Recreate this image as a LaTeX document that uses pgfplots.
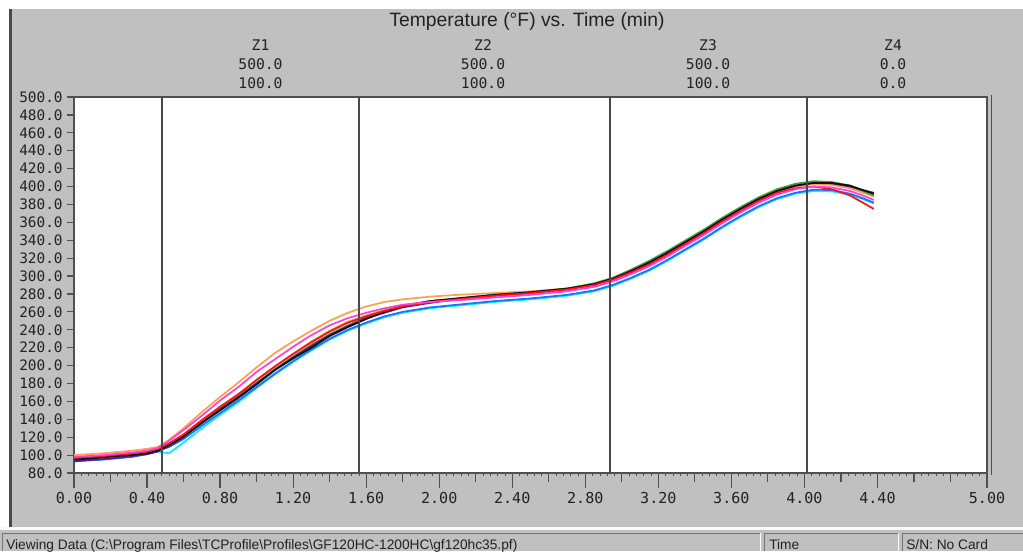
\documentclass[border=0pt]{standalone}
\usepackage{fontspec}
\setmainfont{Liberation Sans}
\setmonofont{DejaVu Sans Mono}
\usepackage{pgfplots}
\usepackage{pgfplotstable}
\pgfplotsset{compat=1.18}
\definecolor{bg}{HTML}{C0C0C0}
\definecolor{darkline}{HTML}{4A4A4A}
\definecolor{frame}{HTML}{505050}
\definecolor{txt}{HTML}{222222}
\definecolor{cK}{HTML}{101010}
\definecolor{cR}{HTML}{FF1010}
\definecolor{cB}{HTML}{2070FF}
\definecolor{cC}{HTML}{00F0FF}
\definecolor{cM}{HTML}{FF40E0}
\definecolor{cO}{HTML}{FFA050}
\definecolor{cG}{HTML}{40A040}
\definecolor{cP}{HTML}{602080}
\definecolor{cY}{HTML}{D0B040}

\pgfplotstableread{
t k r b c m o g p y
0.00 95 97 93 94 98 100 96 93 97
0.08 96 98 94 95 99 101 97 94.5 98
0.16 97.5 99 95 96 100 102 98 95.5 99
0.24 99 100.5 96.5 97.5 101.5 103.5 99.5 97 100.5
0.32 100 102 98 99 103 105 101 99 102
0.40 102 104 101 102 105 107 103 101 104.5
0.46 105 107 105 104 108 109 106 104 107
0.52 111 113 109 102 116 117 112 110 113
0.60 121 123 118 114 128 130 122 120 123
0.70 136 139 133 130 144 148 137 136 139
0.80 150 154 147 145 161 165 152 151 154
0.90 164 168 161 159 176 181 166 165 168
1.00 179 184 176 175 193 198 181 180 184
1.10 195 199 191 190 207 214 196 195 199
1.20 208 213 205 204 221 227 210 209 213
1.30 220 226 218 217 234 239 223 222 227
1.40 233 238 230 229 245 250 235 234 239
1.50 243 248 240 239 253 259 245 244 249
1.60 252 255 248 247 259 266 254 253 256
1.70 260 261 255 254 264 271 261 259 262
1.80 266 266 260 259 268 274 267 265 267
1.95 272 271 265 264 271 277 272 270 272
2.10 275 274 268 267 273 279 275 274 275
2.30 279 278 272 271 276 281 279 278 279
2.50 282 281 275 274 279 283 282 281 282
2.70 286 285 279 278 283 286 286 285 286
2.85 291 290 284 283 288 290 292 291 291
2.95 297 296 290 289 294 296 298 297 297
3.05 305 304 298 297 302 304 307 306 305
3.15 315 313 307 306 311 313 317 315 314
3.25 326 324 318 317 322 324 328 326 325
3.35 338 336 330 329 334 336 340 338 337
3.45 350 348 342 341 346 348 352 350 349
3.55 363 361 355 354 359 361 365 363 362
3.65 375 373 367 366 371 373 377 375 374
3.75 386 384 378 377 382 385 388 386 385
3.85 395 393 387 386 391 394 397 395 394
3.95 401 398 393 392 397 400 403 401 400
4.05 404 400 396.5 395 400 403 406 404 403
4.15 404 397 396 394.5 399 402 405 403.5 402
4.25 401 390 392 391 395 398 401 400 399
4.32 396 382 387 386 390 393 395 396 394
4.38 392 375 382 381 385 389 390 393 390
}\prof

\begin{document}
\begin{tikzpicture}
\path[use as bounding box, fill=white] (0pt,0pt) rectangle (767.25pt,413.25pt);
\begin{scope}[x=0.75pt,y=0.75pt]
\fill[bg] (9,24) rectangle (1023,542);
\fill[darkline] (9,24) rectangle (11.5,542);
% status bar
\fill[white!90!bg] (0,21) rectangle (1023,24);
\fill[bg] (0,0) rectangle (1023,21);
\draw[gray!90!black, line width=0.75pt] (2,0) -- (2,18) -- (760,18);
\draw[white, line width=0.75pt] (760,18) -- (760,0);
\draw[gray!90!black, line width=0.75pt] (764,0) -- (764,18) -- (898,18);
\draw[white, line width=0.75pt] (898,18) -- (898,0);
\draw[gray!90!black, line width=0.75pt] (902,0) -- (902,18) -- (1023,18);
\node[anchor=base west, inner sep=0pt, font=\fontsize{10.3}{12}\selectfont, text=txt] at (6,1.5) {Viewing Data (C:\textbackslash Program Files\textbackslash TCProfile\textbackslash Profiles\textbackslash GF120HC-1200HC\textbackslash gf120hc35.pf)};
\node[anchor=base west, inner sep=0pt, font=\fontsize{10.3}{12}\selectfont, text=txt] at (769,1.5) {Time};
\node[anchor=base west, inner sep=0pt, font=\fontsize{10.3}{12}\selectfont, text=txt] at (906,1.5) {S/N: No Card};
% title
\node[font=\fontsize{14.5}{16}\selectfont, text=txt] at (527,529.5) {Temperature (°F) vs. Time (min)};
% zone labels
\foreach \xx/\za/\zb/\zc in {260.5/Z1/500.0/100.0, 483/Z2/500.0/100.0, 708/Z3/500.0/100.0, 893/Z4/0.0/0.0}{
  \node[font=\ttfamily\fontsize{11}{12}\selectfont, text=txt] at (\xx,506) {\za};
  \node[font=\ttfamily\fontsize{11}{12}\selectfont, text=txt] at (\xx,487) {\zb};
  \node[font=\ttfamily\fontsize{11}{12}\selectfont, text=txt] at (\xx,468) {\zc};
}
% right 3D edge of plot
\draw[frame, line width=0.75pt] (991,76) -- (991,456);
\end{scope}
\begin{axis}[
  at={(55.5pt,58.5pt)}, anchor=south west, scale only axis,
  width=684.75pt, height=282pt,
  xmin=0, xmax=5, ymin=80, ymax=500,
  axis background/.style={fill=white},
  axis line style={draw=frame, line width=1.2pt},
  tick align=outside,
  xtick pos=bottom, ytick pos=left,
  ytick=\empty,
  extra y ticks={80,100,...,500},
  extra y tick style={major tick length=5pt, tick style={draw=frame, line width=0.9pt}},
  xtick={0,0.4,0.8,1.2,1.6,2.0,2.4,2.8,3.2,3.6,4.0,4.4,5.0},
  minor xtick={0.2,0.6,1.0,1.4,1.8,2.2,2.6,3.0,3.4,3.8,4.2,4.6,4.8},
  extra x ticks={0.04,0.08,0.12,0.16,0.24,0.28,0.32,0.36,0.44,0.48,0.52,0.56,0.64,0.68,0.72,0.76,0.84,0.88,0.92,0.96,1.04,1.08,1.12,1.16,1.24,1.28,1.32,1.36,1.44,1.48,1.52,1.56,1.64,1.68,1.72,1.76,1.84,1.88,1.92,1.96,2.04,2.08,2.12,2.16,2.24,2.28,2.32,2.36,2.44,2.48,2.52,2.56,2.64,2.68,2.72,2.76,2.84,2.88,2.92,2.96,3.04,3.08,3.12,3.16,3.24,3.28,3.32,3.36,3.44,3.48,3.52,3.56,3.64,3.68,3.72,3.76,3.84,3.88,3.92,3.96,4.04,4.08,4.12,4.16,4.24,4.28,4.32,4.36,4.44,4.48,4.52,4.56,4.64,4.68,4.72,4.76,4.84,4.88,4.92,4.96},
  extra x tick labels={},
  extra x tick style={major tick length=2.5pt, tick style={draw=frame, line width=0.5pt}},
  major tick length=11pt,
  minor tick length=7pt,
  tick style={draw=frame, line width=0.9pt},
  xticklabel style={font=\ttfamily\fontsize{11.3}{12}\selectfont, text=txt, /pgf/number format/.cd, fixed, fixed zerofill, precision=2, assume math mode=true},
  yticklabel style={font=\ttfamily\fontsize{10.8}{12}\selectfont, text=txt, /pgf/number format/.cd, fixed, fixed zerofill, precision=1, assume math mode=true},
  every axis plot/.append style={line width=1.3pt, line join=round},
]
\addplot[cC] table[x=t,y=c]{\prof};
\addplot[cB] table[x=t,y=b]{\prof};
\addplot[cY] table[x=t,y=y]{\prof};
\addplot[cO] table[x=t,y=o]{\prof};
\addplot[cG] table[x=t,y=g]{\prof};
\addplot[cP] table[x=t,y=p]{\prof};
\addplot[cK] table[x=t,y=k]{\prof};
\addplot[cR] table[x=t,y=r]{\prof};
\addplot[cM] table[x=t,y=m]{\prof};
\addplot[darkline, line width=1.1pt] coordinates {(0.482,80) (0.482,500)};
\addplot[darkline, line width=1.1pt] coordinates {(1.561,80) (1.561,500)};
\addplot[darkline, line width=1.1pt] coordinates {(2.935,80) (2.935,500)};
\addplot[darkline, line width=1.1pt] coordinates {(4.014,80) (4.014,500)};
\end{axis}
\end{tikzpicture}
\end{document}
